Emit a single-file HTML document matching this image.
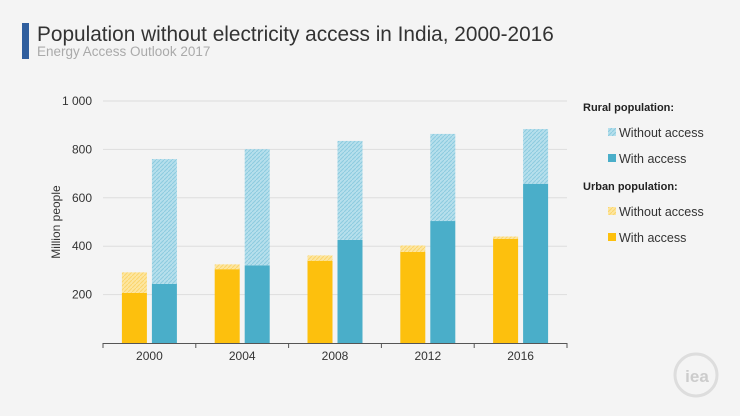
<!DOCTYPE html>
<html><head><meta charset="utf-8"><style>
body{margin:0;background:#f4f4f4;font-family:"Liberation Sans",sans-serif;}
#wrap{position:relative;width:740px;height:416px;overflow:hidden;background:#f4f4f4;}
</style></head><body>
<div id="wrap">
<svg id="chart" width="740" height="416">
<defs>
<pattern id="pRural" width="4" height="4" patternUnits="userSpaceOnUse"><rect width="4" height="4" fill="#b6dfec"/><path d="M0 4L4 0" stroke="#8ccbe0" stroke-width="1"/></pattern>
<pattern id="pUrban" width="4" height="4" patternUnits="userSpaceOnUse"><rect width="4" height="4" fill="#fde6a0"/><path d="M0 4L4 0" stroke="#fbd56c" stroke-width="1"/></pattern>
</defs>
<rect x="22" y="23" width="7" height="36" fill="#2f5e9e"/>
<text x="37" y="41" font-size="20.8" fill="#333">Population without electricity access in India, 2000-2016</text>
<text x="37" y="56" font-size="13.5" fill="#aaa">Energy Access Outlook 2017</text>
<text transform="translate(60,222) rotate(-90)" text-anchor="middle" font-size="12" fill="#333">Million people</text>
<g id="grid"></g><g id="bars"></g><g id="xaxis"></g>
<g>
<text x="583" y="111" font-size="11" font-weight="bold" fill="#222">Rural population:</text>
<rect x="608" y="128" width="8" height="8" fill="url(#pRural)"/>
<text x="619" y="137" font-size="12.5" fill="#333">Without access</text>
<rect x="608" y="154" width="8" height="8" fill="#4aaec9"/>
<text x="619" y="163" font-size="12.5" fill="#333">With access</text>
<text x="583" y="190" font-size="11" font-weight="bold" fill="#222">Urban population:</text>
<rect x="608" y="207" width="8" height="8" fill="url(#pUrban)"/>
<text x="619" y="216" font-size="12.5" fill="#333">Without access</text>
<rect x="608" y="233" width="8" height="8" fill="#fdc00d"/>
<text x="619" y="242" font-size="12.5" fill="#333">With access</text>
</g>
<g>
<circle cx="696" cy="375" r="21" fill="none" stroke="#ddd" stroke-width="3"/>
<text x="697" y="382" text-anchor="middle" font-size="17" font-weight="bold" fill="#ccc">iea</text>
</g>
</svg>
</div>
<script>
const years=["2000","2004","2008","2012","2016"];
const urbanWith=[207,305,340,376,430];
const urbanWithout=[85,20,22,27,10];
const ruralWith=[244,321,426,504,658];
const ruralWithout=[516,480,409,360,226];
const yTicks=[200,400,600,800,1000];
const yTickLabels=["200","400","600","800","1 000"];
const NS="http://www.w3.org/2000/svg";
const x0=103,x1=567,y0=343,y1=101,yMax=1000;
const gw=(x1-x0)/years.length;
function y(v){return y0-(v/yMax)*(y0-y1);}
function gx(i){return x0+gw*i+gw/2;}
function mk(tag,attrs,parent){const e=document.createElementNS(NS,tag);for(const k in attrs)e.setAttribute(k,attrs[k]);parent.appendChild(e);return e;}
const grid=document.getElementById('grid'),bars=document.getElementById('bars'),xa=document.getElementById('xaxis');
yTicks.forEach((t,i)=>{
 const l=mk('line',{x1:x0,x2:x1,y1:y(t),y2:y(t),stroke:'#ddd','stroke-width':1},grid);
 
 
 const tx=mk('text',{x:92,y:y(t)+4,'text-anchor':'end','font-size':12,fill:'#333'},grid);
 tx.textContent=yTickLabels[i];
 
 
});
const ax=mk('line',{x1:x0,x2:x1,y1:y0+0.5,y2:y0+0.5,stroke:'#555','stroke-width':1},xa);


years.forEach((yr,i)=>{
 const c=gx(i),bw=25;
 const ux=c-bw-2.5,rx=c+2.5;
 const segs=[
  [ux,0,urbanWith[i],'#fdc00d','urban-with-access'],
  [ux,urbanWith[i],urbanWithout[i],'url(#pUrban)','urban-without-access'],
  [rx,0,ruralWith[i],'#4aaec9','rural-with-access'],
  [rx,ruralWith[i],ruralWithout[i],'url(#pRural)','rural-without-access']];
 segs.forEach(s=>{
  const r=mk('rect',{x:s[0],y:y(s[1]+s[2]),width:bw,height:y(s[1])-y(s[1]+s[2]),fill:s[3]},bars);
  
  
 });
 if(i>0){const t=mk('line',{x1:x0+gw*i,x2:x0+gw*i,y1:y0,y2:y0+5,stroke:'#555'},xa);
  
  }
 const lb=mk('text',{x:c,y:360,'text-anchor':'middle','font-size':12,fill:'#333'},xa);
 lb.textContent=yr;
 
 
});
[x0,x1].forEach(xx=>{const t=mk('line',{x1:xx,x2:xx,y1:y0,y2:y0+5,stroke:'#555'},xa);
 
 });
</script>
</body></html>
